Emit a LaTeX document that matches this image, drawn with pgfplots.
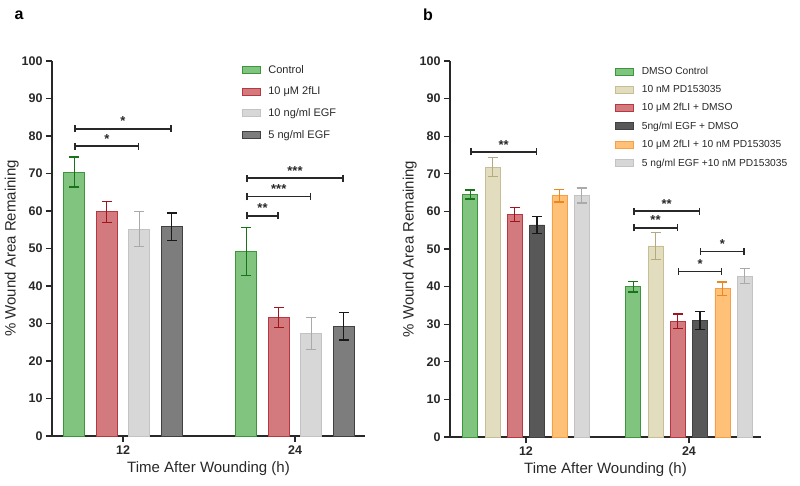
\documentclass[border=0pt]{standalone}
\usepackage{pgfplots}
\pgfplotsset{compat=1.18}
\usepackage{fontspec}
\setmainfont{Liberation Sans}
\usetikzlibrary{arrows.meta}

\definecolor{axisgray}{RGB}{40,40,40}
\definecolor{gfill}{RGB}{128,196,128}
\definecolor{gedge}{RGB}{60,150,60}
\definecolor{gerr}{RGB}{25,115,25}
\definecolor{rfill}{RGB}{211,122,126}
\definecolor{redge}{RGB}{185,55,65}
\definecolor{rerr}{RGB}{160,20,30}
\definecolor{lfill}{RGB}{215,215,215}
\definecolor{ledge}{RGB}{195,195,195}
\definecolor{lerr}{RGB}{170,170,170}
\definecolor{dfill}{RGB}{125,125,125}
\definecolor{dedge}{RGB}{65,65,65}
\definecolor{derr}{RGB}{25,25,25}
\definecolor{dfillb}{RGB}{88,88,88}
\definecolor{tfill}{RGB}{227,221,192}
\definecolor{tedge}{RGB}{200,190,150}
\definecolor{terr}{RGB}{180,170,125}
\definecolor{ofill}{RGB}{255,192,120}
\definecolor{oedge}{RGB}{245,160,70}
\definecolor{oerr}{RGB}{235,135,35}

\tikzset{
  brk/.style={line width=1.3pt, color=axisgray, {Bar[width=7pt]}-{Bar[width=7pt]}},
  star/.style={midway, above=-1pt, font=\bfseries\fontsize{13}{15}\selectfont, text=axisgray},
}
\pgfplotsset{
  mybar/.style n args={3}{fill=#1, draw=#2, line width=0.8pt,
    legend image code/.code={\draw[fill=#1, draw=#2, line width=0.8pt] (0pt,-3.5pt) rectangle (18pt,3.5pt);
      \path (24pt,0pt);},
    error bars/.cd, y dir=both, y explicit,
    error bar style={line width=1.3pt, color=#3},
    error mark options={line width=1.3pt, color=#3, mark size=5pt, rotate=90}},
  panel/.style={
    scale only axis, anchor=south west,
    ymin=0, ymax=100, ytick={0,10,...,100},
    xtick={1,2}, xticklabels={12,24},
    axis lines=left,
    axis line style={-, line width=1.3pt, color=axisgray},
    tick style={line width=1.3pt, color=axisgray},
    tick align=outside, major tick length=6pt,
    /pgf/number format/assume math mode=true,
    ticklabel style={font=\bfseries\fontsize{12.5}{14}\selectfont, color=axisgray},
    label style={font=\fontsize{15}{17}\selectfont, color=axisgray},
    xlabel={Time After Wounding (h)},
    ylabel={\% Wound Area Remaining},
    ylabel style={yshift=-4pt},
    legend cell align=left,
    legend style={draw=none, fill=none, anchor=north west, inner sep=0pt,
      nodes={inner sep=2pt, text=axisgray}},
  },
}

\begin{document}
\begin{tikzpicture}
\useasboundingbox (0pt,0pt) rectangle (800pt,-485pt);
\node[anchor=center, font=\bfseries\fontsize{16}{18}\selectfont] at (19pt,-15pt) {a};
\node[anchor=center, font=\bfseries\fontsize{16}{18}\selectfont] at (428pt,-15pt) {b};

% panel a
\begin{axis}[panel, at={(52pt,-436pt)}, width=313pt, height=375pt,
  xmin=0.587, xmax=2.407,
  ybar=11.5pt, bar width=21pt,
  legend style={at={(0.605,0.995)}, row sep=8.3pt, font=\fontsize{11}{13}\selectfont}]
\addplot[mybar={gfill}{gedge}{gerr}] coordinates {(1,70.4) +- (0,4.0) (2,49.2) +- (0,6.4)};
\addplot[mybar={rfill}{redge}{rerr}] coordinates {(1,59.8) +- (0,2.8) (2,31.6) +- (0,2.6)};
\addplot[mybar={lfill}{ledge}{lerr}] coordinates {(1,55.2) +- (0,4.7) (2,27.3) +- (0,4.3)};
\addplot[mybar={dfill}{dedge}{derr}] coordinates {(1,55.8) +- (0,3.7) (2,29.3) +- (0,3.7)};
\legend{Control, 10 μM 2fLI, 10 ng/ml EGF, 5 ng/ml EGF}
\draw[brk] (axis cs:0.7166,81.9) -- (axis cs:1.2834,81.9) node[star] {*};
\draw[brk] (axis cs:0.7166,77.3) -- (axis cs:1.0945,77.3) node[star] {*};
\draw[brk] (axis cs:1.7166,68.8) -- (axis cs:2.2834,68.8) node[star] {***};
\draw[brk] (axis cs:1.7166,63.8) -- (axis cs:2.0945,63.8) node[star] {***};
\draw[brk] (axis cs:1.7166,58.7) -- (axis cs:1.9055,58.7) node[star] {**};
\end{axis}

% panel b
\begin{axis}[panel, at={(450pt,-437pt)}, width=311pt, height=376pt,
  xmin=0.534, xmax=2.442,
  ybar=7.3pt, bar width=15pt,
  legend style={at={(0.53,0.99)}, row sep=5.5pt, font=\fontsize{10.2}{12}\selectfont}]
\addplot[mybar={gfill}{gedge}{gerr}] coordinates {(1,64.5) +- (0,1.2) (2,40.0) +- (0,1.4)};
\addplot[mybar={tfill}{tedge}{terr}] coordinates {(1,71.8) +- (0,2.5) (2,50.8) +- (0,3.5)};
\addplot[mybar={rfill}{redge}{rerr}] coordinates {(1,59.2) +- (0,1.8) (2,30.8) +- (0,1.9)};
\addplot[mybar={dfillb}{dedge}{derr}] coordinates {(1,56.4) +- (0,2.3) (2,30.9) +- (0,2.4)};
\addplot[mybar={ofill}{oedge}{oerr}] coordinates {(1,64.2) +- (0,1.7) (2,39.4) +- (0,1.8)};
\addplot[mybar={lfill}{ledge}{lerr}] coordinates {(1,64.2) +- (0,2.0) (2,42.8) +- (0,2.0)};
\legend{DMSO Control, 10 nM PD153035, 10 μM 2fLI + DMSO, 5ng/ml EGF + DMSO, 10 μM 2fLI + 10 nM PD153035, 5 ng/ml EGF +10 nM PD153035}
\draw[brk] (axis cs:0.658,75.8) -- (axis cs:1.068,75.8) node[star] {**};
\draw[brk] (axis cs:1.658,60.1) -- (axis cs:2.068,60.1) node[star] {**};
\draw[brk] (axis cs:1.658,55.6) -- (axis cs:1.932,55.6) node[star] {**};
\draw[brk] (axis cs:2.068,49.3) -- (axis cs:2.342,49.3) node[star] {*};
\draw[brk] (axis cs:1.932,44.0) -- (axis cs:2.205,44.0) node[star] {*};
\end{axis}
\end{tikzpicture}
\end{document}
